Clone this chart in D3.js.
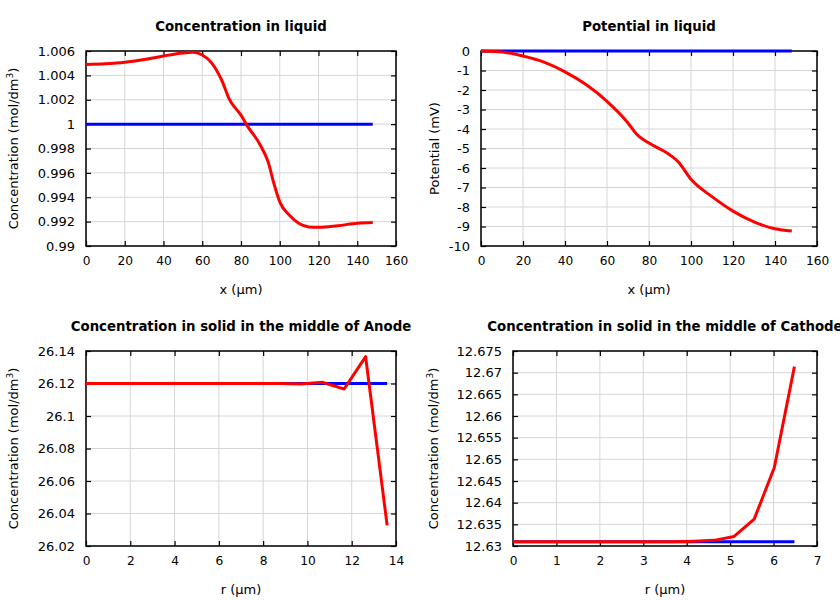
<!DOCTYPE html>
<html><head><meta charset="utf-8">
<script src="https://cdn.jsdelivr.net/npm/d3@7"></script>
<style>body{margin:0;background:#fff}svg{display:block}text{font-family:"DejaVu Sans",sans-serif}</style>
</head><body><svg id="c" width="840" height="600"></svg>
<script>
// ---- Panel 1: Concentration in liquid ----
const liqX = [0,10,20,30,40,50,55,60,65,70,74,80,83,90,94,97,100,105,110,115,120,130,140,148];
const liqConc = [1.00490,1.00495,1.00507,1.00530,1.00559,1.00584,1.00589,1.00567,1.00499,1.00362,1.00203,1.00074,0.99992,0.99827,0.99690,0.99512,0.99362,0.99252,0.99184,0.99156,0.99153,0.99167,0.99186,0.99192];
const liqConcInit = [1,1];
const liqXInit = [0,148];
const concTicksY = [0.99,0.992,0.994,0.996,0.998,1,1.002,1.004,1.006];
const concTickLabels = ["0.99","0.992","0.994","0.996","0.998","1","1.002","1.004","1.006"];
const xTicks160 = [0,20,40,60,80,100,120,140,160];

// ---- Panel 2: Potential in liquid ----
const potX = [0,10,20,30,40,50,60,70,74,80,90,94,100,110,120,130,140,148];
const potVal = [0,-0.05,-0.26,-0.57,-1.07,-1.72,-2.58,-3.69,-4.26,-4.72,-5.33,-5.69,-6.58,-7.47,-8.21,-8.76,-9.12,-9.23];
const potInit = [0,0];
const potTicksY = [0,-1,-2,-3,-4,-5,-6,-7,-8,-9,-10];
const potTickLabels = ["0","-1","-2","-3","-4","-5","-6","-7","-8","-9","-10"];

// ---- Panel 3: Anode solid ----
const anodeR = [0,0.971,1.943,2.914,3.886,4.857,5.829,6.8,7.771,8.743,9.714,10.686,11.657,12.629,13.6];
const anodeConc = [26.12,26.12,26.12,26.12,26.12,26.12,26.12,26.12,26.12,26.12,26.1197,26.1207,26.1166,26.1365,26.0327];
const anodeInit = [26.12,26.12];
const anodeRInit = [0,13.6];
const anodeTicksY = [26.02,26.04,26.06,26.08,26.1,26.12,26.14];
const anodeTickLabels = ["26.02","26.04","26.06","26.08","26.1","26.12","26.14"];
const xTicks14 = [0,2,4,6,8,10,12,14];

// ---- Panel 4: Cathode solid ----
const cathR = [0,0.463,0.926,1.389,1.851,2.314,2.777,3.24,3.703,4.166,4.629,5.091,5.554,6.017,6.48];
const cathConc = [12.631,12.631,12.631,12.631,12.631,12.631,12.631,12.631,12.631,12.6311,12.6313,12.6322,12.6362,12.6481,12.6714];
const cathInit = [12.631,12.631];
const cathRInit = [0,6.48];
const cathTicksY = [12.63,12.635,12.64,12.645,12.65,12.655,12.66,12.665,12.67,12.675];
const cathTickLabels = ["12.63","12.635","12.64","12.645","12.65","12.655","12.66","12.665","12.67","12.675"];
const xTicks7 = [0,1,2,3,4,5,6,7];

const titles = ["Concentration in liquid","Potential in liquid","Concentration in solid in the middle of Anode","Concentration in solid in the middle of Cathode"];

const svg = d3.select("#c");

function panel(o){
  const g = svg.append("g");
  const x = d3.scaleLinear().domain(o.xDom).range([o.l,o.r]);
  const y = d3.scaleLinear().domain(o.yDom).range([o.b,o.t]);
  // grid
  g.selectAll(".gx").data(o.xTicks).enter().append("line")
    .attr("x1",d=>x(d)).attr("x2",d=>x(d)).attr("y1",o.t).attr("y2",o.b)
    .attr("stroke","#d6d6d6").attr("stroke-width",1);
  g.selectAll(".gy").data(o.yTicks).enter().append("line")
    .attr("y1",d=>y(d)).attr("y2",d=>y(d)).attr("x1",o.l).attr("x2",o.r)
    .attr("stroke","#d6d6d6").attr("stroke-width",1);
  // axes with inward ticks
  const fmtY = d => o.yLabels[o.yTicks.indexOf(d)];
  const ax = (a) => a.tickSizeOuter(0);
  const xb = g.append("g").attr("transform",`translate(0,${o.b})`)
    .call(ax(d3.axisBottom(x).tickValues(o.xTicks).tickSizeInner(-5).tickPadding(10).tickFormat(d3.format("d"))));
  g.append("g").attr("transform",`translate(0,${o.t})`)
    .call(ax(d3.axisTop(x).tickValues(o.xTicks).tickSizeInner(-5).tickFormat("")));
  const yl0 = g.append("g").attr("transform",`translate(${o.l},0)`)
    .call(ax(d3.axisLeft(y).tickValues(o.yTicks).tickSizeInner(-5).tickPadding(11).tickFormat(fmtY)));
  g.append("g").attr("transform",`translate(${o.r},0)`)
    .call(ax(d3.axisRight(y).tickValues(o.yTicks).tickSizeInner(-5).tickFormat("")));
  g.selectAll(".domain").remove();
  g.selectAll(".tick line").attr("stroke","#000").attr("stroke-width",1.2);
  g.selectAll(".tick text").attr("fill","#000").attr("font-family","DejaVu Sans");
  xb.selectAll(".tick text").attr("font-size",12.2);
  yl0.selectAll(".tick text").attr("font-size",13);
  // frame
  g.append("rect").attr("x",o.l).attr("y",o.t).attr("width",o.r-o.l).attr("height",o.b-o.t)
    .attr("fill","none").attr("stroke","#000").attr("stroke-width",1.5);
  // lines
  const clipId = "clip"+o.id;
  g.append("clipPath").attr("id",clipId).append("rect")
    .attr("x",o.l-2).attr("y",o.t-3).attr("width",o.r-o.l+4).attr("height",o.b-o.t+6);
  const line = d3.line().x(d=>x(d[0])).y(d=>y(d[1]));
  g.append("path").datum(d3.zip(o.bx,o.by)).attr("d",line)
    .attr("fill","none").attr("stroke","#0000ff").attr("stroke-width",3).attr("clip-path",`url(#${clipId})`);
  g.append("path").datum(d3.zip(o.rx,o.ry)).attr("d",o.curve?line.curve(d3.curveMonotoneX):line)
    .attr("fill","none").attr("stroke","#ff0000").attr("stroke-width",3).attr("stroke-linejoin","round").attr("clip-path",`url(#${clipId})`);
  // title
  g.append("text").attr("x",(o.l+o.r)/2).attr("y",o.t-20).attr("text-anchor","middle")
    .attr("font-size",13.3).attr("font-weight","bold").text(o.title);
  // x label
  g.append("text").attr("x",(o.l+o.r)/2).attr("y",o.b+48).attr("text-anchor","middle")
    .attr("font-size",13).text(o.xLabel);
  // y label
  const yl = g.append("text").attr("transform",`translate(${o.yLabX},${(o.t+o.b)/2}) rotate(-90)`)
    .attr("text-anchor","middle").attr("font-size",13);
  if(o.sup){
    yl.append("tspan").text(o.yLabel);
    yl.append("tspan").attr("baseline-shift","super").attr("font-size",9).text("3");
    yl.append("tspan").text(")");
  } else yl.text(o.yLabel);
}

panel({id:1,l:86,r:396,t:51,b:246,xDom:[0,160],yDom:[0.99,1.006],xTicks:xTicks160,yTicks:concTicksY,yLabels:concTickLabels,
  bx:liqXInit,by:liqConcInit,rx:liqX,ry:liqConc,curve:true,title:titles[0],xLabel:"x (µm)",yLabel:"Concentration (mol/dm",sup:true,yLabX:18});
panel({id:2,l:481,r:817,t:51,b:246,xDom:[0,160],yDom:[-10,0],xTicks:xTicks160,yTicks:potTicksY,yLabels:potTickLabels,
  bx:liqXInit,by:potInit,rx:potX,ry:potVal,curve:true,title:titles[1],xLabel:"x (µm)",yLabel:"Potential (mV)",sup:false,yLabX:439});
panel({id:3,l:86,r:396,t:351,b:546,xDom:[0,14],yDom:[26.02,26.14],xTicks:xTicks14,yTicks:anodeTicksY,yLabels:anodeTickLabels,
  bx:anodeRInit,by:anodeInit,rx:anodeR,ry:anodeConc,curve:false,title:titles[2],xLabel:"r (µm)",yLabel:"Concentration (mol/dm",sup:true,yLabX:18});
panel({id:4,l:513,r:817,t:351,b:546,xDom:[0,7],yDom:[12.63,12.675],xTicks:xTicks7,yTicks:cathTicksY,yLabels:cathTickLabels,
  bx:cathRInit,by:cathInit,rx:cathR,ry:cathConc,curve:false,title:titles[3],xLabel:"r (µm)",yLabel:"Concentration (mol/dm",sup:true,yLabX:438});
</script></body></html>
